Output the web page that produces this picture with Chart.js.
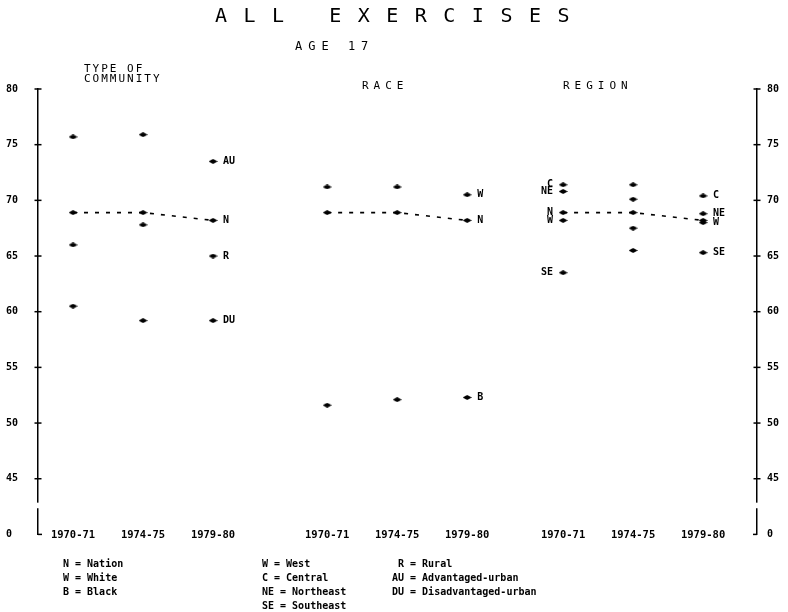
<!DOCTYPE html>
<html>
<head>
<meta charset="utf-8">
<script src="https://cdn.jsdelivr.net/npm/chart.js@4.4.1/dist/chart.umd.min.js"></script>
<style>
html,body{margin:0;padding:0;background:#fff;}
#wrap{width:788px;height:612px;position:relative;}
</style>
</head>
<body>
<div id="wrap"><canvas id="c" width="788" height="612"></canvas></div>
<script>
// ---- data ----
const titleText = 'ALL EXERCISES';
const subtitleText = 'AGE 17';
const years = ['1970-71', '1974-75', '1979-80'];
const groupTitles = [['TYPE OF', 'COMMUNITY'], ['RACE'], ['REGION']];
const yTickValues = [40, 45, 50, 55, 60, 65, 70, 75, 80];
const yTickLabels = ['0', '45', '50', '55', '60', '65', '70', '75', '80'];

const nation = [68.9, 68.9, 68.2];
// type of community
const advantagedUrban = [75.7, 75.9, 73.5];
const rural = [66.0, 67.8, 65.0];
const disadvantagedUrban = [60.5, 59.2, 59.2];
// race
const white = [71.2, 71.2, 70.5];
const black = [51.6, 52.1, 52.3];
// region
const central = [71.4, 71.4, 70.4];
const northeast = [70.8, 70.1, 68.8];
const west = [68.2, 67.5, 68.0];
const southeast = [63.5, 65.5, 65.3];

const legendCol1 = ['N = Nation', 'W = White', 'B = Black'];
const legendCol2 = ['W = West', 'C = Central', 'NE = Northeast', 'SE = Southeast'];
const legendCol3 = ['R = Rural', 'AU = Advantaged-urban', 'DU = Disadvantaged-urban'];

// ---- layout ----
const groupStart = [0.5, 4.13, 7.5];
const groupTitleX = [84, 362, 563];

function makeMarker() {
  const c = document.createElement('canvas');
  c.width = 9; c.height = 5;
  const x = c.getContext('2d');
  x.fillStyle = '#000';
  x.beginPath();
  x.moveTo(0, 2.5); x.lineTo(4.5, 0); x.lineTo(9, 2.5); x.lineTo(4.5, 5);
  x.closePath(); x.fill();
  x.fillRect(2, 1.5, 5, 2);
  return c;
}
const marker = makeMarker();

const seriesDefs = [
  {g: 0, values: nation, tagR: 'N', line: true},
  {g: 0, values: advantagedUrban, tagR: 'AU'},
  {g: 0, values: rural, tagR: 'R'},
  {g: 0, values: disadvantagedUrban, tagR: 'DU'},
  {g: 1, values: white, tagR: 'W'},
  {g: 1, values: nation, tagR: 'N', line: true},
  {g: 1, values: black, tagR: 'B'},
  {g: 2, values: central, tagL: 'C', tagR: 'C'},
  {g: 2, values: northeast, tagL: 'NE', tagR: 'NE'},
  {g: 2, values: nation, tagL: 'N', line: true},
  {g: 2, values: west, tagL: 'W', tagR: 'W'},
  {g: 2, values: southeast, tagL: 'SE', tagR: 'SE'}
];

const datasets = seriesDefs.map(s => ({
  data: s.values.map((v, i) => ({x: groupStart[s.g] + i, y: v})),
  showLine: !!s.line,
  borderColor: '#000',
  borderWidth: 1.6,
  borderDash: [4, 7],
  pointStyle: marker,
  pointRadius: 4,
  backgroundColor: '#000',
  tagL: s.tagL, tagR: s.tagR
}));

const xTickValues = [];
groupStart.forEach(g => years.forEach((y, i) => xTickValues.push(g + i)));

const FONT = "'DejaVu Sans Mono', monospace";

const decor = {
  id: 'decor',
  afterDraw(chart) {
    const ctx = chart.ctx;
    const ys = chart.scales.y;
    const xs = chart.scales.x;
    const ca = chart.chartArea;
    ctx.save();
    // axis ticks (crosses)
    ctx.strokeStyle = '#000';
    ctx.lineWidth = 1.5;
    [ca.left, ca.right].forEach(ax => {
      yTickValues.forEach(v => {
        const py = ys.getPixelForValue(v);
        ctx.beginPath();
        if (v === 40) {
          ctx.moveTo(ax, py);
          ctx.lineTo(ax === ca.left ? ax + 4 : ax - 4, py);
        } else {
          ctx.moveTo(ax - 3.5, py); ctx.lineTo(ax + 3.5, py);
        }
        ctx.stroke();
      });
      // axis break
      const b1 = ys.getPixelForValue(42.85), b2 = ys.getPixelForValue(42.35);
      ctx.fillStyle = '#fff';
      ctx.fillRect(ax - 4, b1, 8, b2 - b1);
    });
    ctx.fillStyle = '#000';
    // x category labels, on the baseline level (value 40)
    ctx.font = "bold 10.5px " + FONT;
    ctx.textAlign = 'center';
    ctx.textBaseline = 'middle';
    const by = ys.getPixelForValue(40) + 1;
    xTickValues.forEach((v, i) => ctx.fillText(years[i % 3], xs.getPixelForValue(v), by));
    // point tags
    ctx.font = "bold 10px " + FONT;
    chart.data.datasets.forEach((ds, di) => {
      const meta = chart.getDatasetMeta(di);
      const pts = meta.data;
      if (ds.tagR) {
        ctx.textAlign = 'left';
        const p = pts[pts.length - 1];
        ctx.fillText(ds.tagR, p.x + 10, p.y);
      }
      if (ds.tagL) {
        ctx.textAlign = 'right';
        const p = pts[0];
        ctx.fillText(ds.tagL, p.x - 10, p.y);
      }
    });
    // titles
    ctx.textAlign = 'left';
    ctx.textBaseline = 'alphabetic';
    ctx.font = "20px " + FONT;
    ctx.letterSpacing = '16.5px';
    ctx.fillText(titleText, 215, 22);
    ctx.font = "12px " + FONT;
    ctx.letterSpacing = '6px';
    ctx.fillText(subtitleText, 295, 50);
    ctx.font = "11px " + FONT;
    groupTitles.forEach((lines, gi) => {
      ctx.letterSpacing = gi === 0 ? '2px' : '5px';
      const base = lines.length === 2 ? 72 : 89;
      lines.forEach((t, li) => ctx.fillText(t, groupTitleX[gi], base + li * 10));
    });
    // legend
    ctx.letterSpacing = '0px';
    ctx.font = "bold 10px " + FONT;
    ctx.textBaseline = 'middle';
    legendCol1.forEach((t, i) => ctx.fillText(t, 63, 564 + i * 14));
    legendCol2.forEach((t, i) => ctx.fillText(t, 262, 564 + i * 14));
    legendCol3.forEach((t, i) => {
      const off = t.indexOf('=') - 1;
      ctx.fillText(t, 404 - off * 6, 564 + i * 14);
    });
    ctx.restore();
  }
};

new Chart(document.getElementById('c'), {
  type: 'scatter',
  data: {datasets},
  options: {
    responsive: false,
    animation: false,
    devicePixelRatio: 1,
    layout: {padding: {left: 6, right: 0, top: 89, bottom: 77.6}},
    plugins: {legend: {display: false}, tooltip: {enabled: false}},
    scales: {
      x: {
        type: 'linear', min: 0, max: 10.27,
        display: false
      },
      y: {
        position: 'left', min: 40, max: 80,
        grid: {display: false, drawTicks: false},
        border: {display: true, color: '#000', width: 1.5},
        afterFit: s => { s.width = 32; },
        afterBuildTicks: s => { s.ticks = yTickValues.map(v => ({value: v})); },
        ticks: {
          crossAlign: 'far', padding: 10, color: '#000',
          font: {family: FONT, size: 10, weight: 'bold'},
          callback: (v) => yTickLabels[yTickValues.indexOf(v)]
        }
      },
      y2: {
        position: 'right', min: 40, max: 80,
        grid: {display: false, drawTicks: false},
        border: {display: true, color: '#000', width: 1.5},
        afterFit: s => { s.width = 31; },
        afterBuildTicks: s => { s.ticks = yTickValues.map(v => ({value: v})); },
        ticks: {
          padding: 10, color: '#000',
          font: {family: FONT, size: 10, weight: 'bold'},
          callback: (v) => yTickLabels[yTickValues.indexOf(v)]
        }
      }
    }
  },
  plugins: [decor]
});
</script>
</body>
</html>
